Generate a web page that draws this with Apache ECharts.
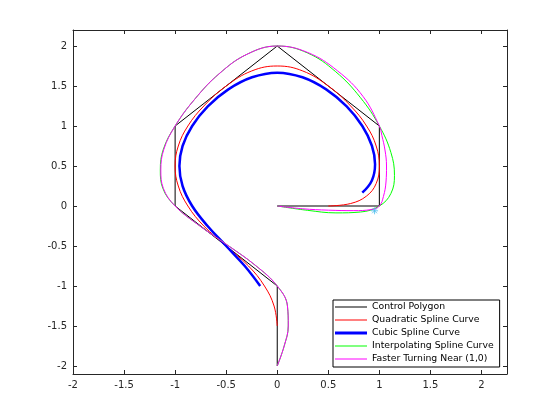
<!DOCTYPE html>
<html>
<head>
<meta charset="utf-8">
<script src="https://cdn.jsdelivr.net/npm/echarts@6/dist/echarts.min.js"></script>
<style>
  html, body { margin: 0; padding: 0; background: #fff; }
  #chart { width: 560px; height: 420px; }
</style>
</head>
<body>
<div id="chart"></div>
<script>
// control polygon
const polygonX = [0, 1, 1, 0, -1, -1, 0, 0];
const polygonY = [0, 0, 1, 2, 1, 0, -1, -2];

// quadratic spline (red)
const quadX = [0.5, 0.719, 0.875, 0.969, 1, 0.969, 0.875, 0.719, 0.5, 0.25, 0, -0.25, -0.5, -0.719, -0.875, -0.969, -1, -0.969, -0.875, -0.719, -0.5, -0.281, -0.125, -0.031, 0];
const quadY = [0, 0.031, 0.125, 0.281, 0.5, 0.75, 1, 1.25, 1.5, 1.688, 1.75, 1.688, 1.5, 1.25, 1, 0.75, 0.5, 0.25, 0, -0.25, -0.5, -0.75, -1, -1.25, -1.5];

// cubic spline (blue)
const cubicX = [0.833, 0.927, 0.958, 0.927, 0.833, 0.68, 0.479, 0.247, 0, -0.247, -0.479, -0.68, -0.833, -0.927, -0.958, -0.927, -0.833, -0.682, -0.5, -0.318, -0.167];
const cubicY = [0.167, 0.32, 0.521, 0.753, 1, 1.245, 1.458, 1.609, 1.667, 1.609, 1.458, 1.245, 1, 0.75, 0.5, 0.25, 0, -0.25, -0.5, -0.75, -1];

// interpolating spline (green)
const interpX = [0, 0.297, 0.575, 0.816, 1, 1.113, 1.148, 1.113, 1, 0.815, 0.573, 0.295, 0, -0.294, -0.569, -0.81, -1, -1.115, -1.145, -1.12, -1, -0.769, -0.487, -0.212, 0, 0.1, 0.108, 0.068, 0];
const interpY = [0, -0.054, -0.086, -0.075, 0, 0.156, 0.383, 0.669, 1, 1.354, 1.678, 1.914, 2, 1.898, 1.653, 1.332, 1, 0.71, 0.45, 0.22, 0, -0.239, -0.489, -0.744, -1, -1.25, -1.5, -1.75, -2];

// faster turning near (1,0) (magenta)
const fasterX = [0, 0.25, 0.5, 0.75, 0.92, 1, 1.04, 1.065, 1.07, 1.055, 1.025, 1, 0.84, 0.59, 0.3, 0, -0.294, -0.569, -0.81, -1, -1.11, -1.14, -1.115, -1, -0.769, -0.487, -0.212, 0, 0.1, 0.108, 0.068, 0];
const fasterY = [0, -0.035, -0.052, -0.058, -0.045, 0, 0.12, 0.3, 0.5, 0.7, 0.88, 1, 1.37, 1.69, 1.918, 2, 1.898, 1.653, 1.332, 1, 0.71, 0.45, 0.22, 0, -0.239, -0.489, -0.744, -1, -1.25, -1.5, -1.75, -2];

// little asterisk near (1,0)
const markerX = [0.953];
const markerY = [-0.06];

const xTicks = [-2, -1.5, -1, -0.5, 0, 0.5, 1, 1.5, 2];
const yTicks = [-2, -1.5, -1, -0.5, 0, 0.5, 1, 1.5, 2];

const legendNames = ['Control Polygon', 'Quadratic Spline Curve', 'Cubic Spline Curve', 'Interpolating Spline Curve', 'Faster Turning Near (1,0)'];

const zip = (xs, ys) => xs.map((x, i) => [x, ys[i]]);

const chart = echarts.init(document.getElementById('chart'));

const axisColor = '#262626';
const font = 'DejaVu Sans';

// flat bars used as legend line samples
const thinIcon = 'path://M0,0L32,0L32,1L0,1Z';
const thickIcon = 'path://M0,0L32,0L32,3L0,3Z';

function makeAxis(pos, min, max, ticks, showLabels) {
  return {
    type: 'value',
    position: pos,
    min: min,
    max: max,
    axisLine: { show: true, onZero: false, lineStyle: { color: axisColor, width: 1 } },
    axisTick: { show: true, inside: true, length: 4, customValues: ticks, lineStyle: { color: axisColor } },
    axisLabel: {
      show: showLabels,
      customValues: ticks,
      color: axisColor,
      fontSize: 10,
      fontFamily: font,
      margin: 6,
    },
    splitLine: { show: false },
  };
}

function lineSeries(name, xs, ys, color, width, smooth) {
  return {
    name: name,
    type: 'line',
    data: zip(xs, ys),
    symbol: 'none',
    smooth: smooth,
    lineStyle: { color: color, width: width },
    itemStyle: { color: color },
    emphasis: { disabled: true },
  };
}

const option = {
  animation: false,
  backgroundColor: '#fff',
  grid: { left: 73, right: 53, top: 30, bottom: 46, outerBoundsMode: 'none' },
  xAxis: [
    makeAxis('bottom', -2, 2.25, xTicks, true),
    makeAxis('top', -2, 2.25, xTicks, false),
  ],
  yAxis: [
    makeAxis('left', -2.1, 2.2, yTicks, true),
    makeAxis('right', -2.1, 2.2, yTicks, false),
  ],
  legend: {
    data: legendNames.map((n) => ({
      name: n,
      icon: n === 'Cubic Spline Curve' ? thickIcon : thinIcon,
      itemStyle: { borderWidth: 0 },
    })),
    orient: 'vertical',
    left: 333,
    top: 300,
    padding: [2, 6, 3, 2],
    itemWidth: 32,
    itemHeight: 10,
    itemGap: 3,
    symbolKeepAspect: true,
    borderColor: '#000',
    borderWidth: 1,
    borderRadius: 0,
    backgroundColor: '#fff',
    selectedMode: false,
    textStyle: { fontSize: 9.3, fontFamily: font, color: '#000', lineHeight: 10 },
  },
  series: [
    lineSeries(legendNames[0], polygonX, polygonY, '#000000', 1, false),
    lineSeries(legendNames[1], quadX, quadY, '#ff0000', 1, 0.4),
    lineSeries(legendNames[2], cubicX, cubicY, '#0000ff', 2.5, 0.4),
    lineSeries(legendNames[3], interpX, interpY, '#00ff00', 1, 0.4),
    lineSeries(legendNames[4], fasterX, fasterY, '#ff00ff', 1, 0.4),
    {
      type: 'scatter',
      data: zip(markerX, markerY),
      symbol: 'path://M5,0L5,10M0,5L10,5M1.5,1.5L8.5,8.5M1.5,8.5L8.5,1.5',
      symbolSize: 7,
      itemStyle: { color: 'rgba(0,0,0,0)', borderColor: '#4dbeee', borderWidth: 1 },
      emphasis: { disabled: true },
      z: 3,
    },
  ],
};

chart.setOption(option);
</script>
</body>
</html>
